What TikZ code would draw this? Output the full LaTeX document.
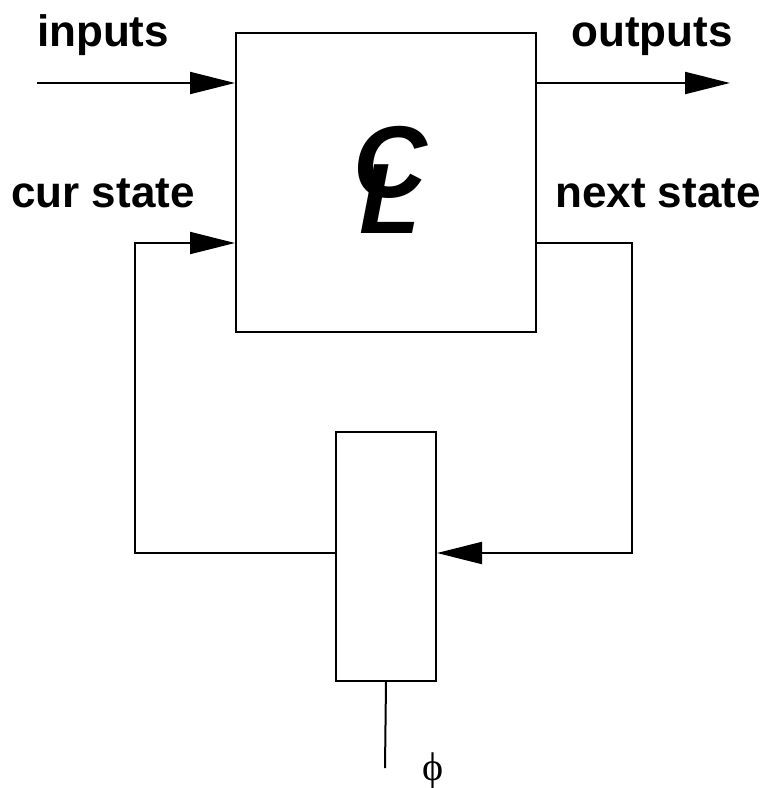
\documentclass[tikz,border=0pt]{standalone}
\usepackage{fontspec}
\setmainfont{Liberation Sans}
\newfontfamily\serifphi{Liberation Serif}
\usetikzlibrary{arrows.meta}
\begin{document}
\begin{tikzpicture}[x=1pt,y=-1pt,
  wire/.style={line width=2pt},
  flow/.style={wire,-{Triangle[length=45pt,width=22pt]}},
  lbl/.style={font=\fontsize{44}{44}\selectfont\bfseries, inner sep=0pt},
  blk/.style={draw,line width=2pt,minimum width=0pt,inner sep=0pt}]
\useasboundingbox (0,0) rectangle (772,788);
% combinational block
\node[blk, minimum width=300pt, minimum height=299pt, anchor=north west] (cl) at (235,32) {};
% state register
\node[blk, minimum width=100pt, minimum height=249pt, anchor=north west] (reg) at (335,431) {};
% logic symbol: overlapping oblique C and L
\node[anchor=base west, inner sep=0pt, font=\fontsize{102}{102}\selectfont\bfseries\itshape] (cc) at (353,197) {C};
\node[anchor=base west, inner sep=0pt, font=\fontsize{100}{100}\selectfont\bfseries\itshape] (ll) at (359,233) {L};
% terminals
\coordinate (in0) at (37,83);
\coordinate (out1) at (730,83);
\coordinate (cs) at (135,243);
\coordinate (ns) at (632,243);
\coordinate (clk) at (385,768);
% labels
\node[lbl, anchor=base] (tin) at (103,46) {inputs};
\node[lbl, anchor=base] (tout) at (652,46) {outputs};
\node[lbl, anchor=base] (tcs) at (103,207) {cur state};
\node[lbl, anchor=base] (tns) at (658,207) {next state};
\node[anchor=base, inner sep=0pt, font=\serifphi\fontsize{40}{40}\selectfont] (phi) at (433,780) {ϕ};
% connections
\draw[flow] (in0) -- (in0 -| cl.west);
\draw[flow] (in0 -| cl.east) -- (out1);
\draw[flow] (reg.west |- 0,553) -- (cs |- 0,553) -- (cs) -- (cs -| cl.west);
\draw[flow] (ns -| cl.east) -- (ns) -- (ns |- 0,553) -- (reg.east |- 0,553);
\draw[wire] (reg.south) -- (clk);
\end{tikzpicture}
\end{document}
